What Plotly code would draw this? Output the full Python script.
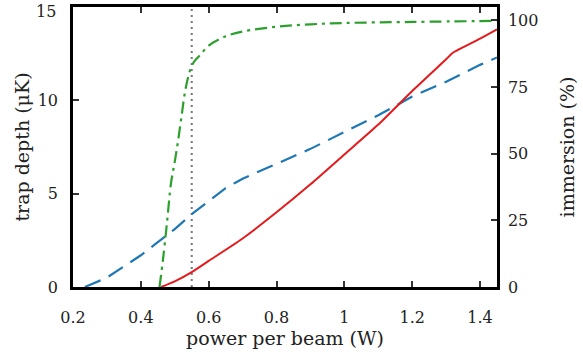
import plotly.graph_objects as go

# trap depth (uK) vs power per beam (W)
blue_x = [0.235, 0.27, 0.3, 0.35, 0.4, 0.45, 0.5, 0.55, 0.6, 0.65, 0.68, 0.7, 0.8, 0.9, 1.0, 1.1, 1.2, 1.3, 1.4, 1.45]
blue_y = [0.0, 0.25, 0.5, 1.1, 1.7, 2.4, 3.1, 3.9, 4.6, 5.3, 5.6, 5.8, 6.6, 7.4, 8.3, 9.2, 10.2, 11.0, 11.9, 12.3]

red_x = [0.46, 0.5, 0.55, 0.6, 0.7, 0.8, 0.9, 1.0, 1.1, 1.2, 1.3, 1.32, 1.4, 1.45]
red_y = [0.0, 0.3, 0.8, 1.4, 2.6, 4.0, 5.5, 7.1, 8.7, 10.5, 12.2, 12.55, 13.3, 13.8]

# immersion (%)
green_x = [0.455, 0.465, 0.477, 0.489, 0.5, 0.51, 0.52, 0.53, 0.54, 0.55, 0.56, 0.575, 0.6, 0.65, 0.7, 0.8, 0.9, 1.0, 1.2, 1.45]
green_y = [0, 10, 24, 39, 47, 55, 64, 73, 79, 83, 85, 87, 90.5, 94, 95.8, 97.6, 98.5, 99, 99.4, 99.8]

vline_x = [0.55, 0.55]
vline_y = [0, 15]

x_ticks = [0.2, 0.4, 0.6, 0.8, 1.0, 1.2, 1.4]
y_ticks = [0, 5, 10, 15]
y_ticktext = ["0", "5", "10", ""]  # the top label "15" is placed as an annotation just below the edge
y_top_label = "15"
y2_ticks = [0, 25, 50, 75, 100]

FONT = "DejaVu Serif"
TICK_SIZE = 16
TITLE_SIZE = 19

fig = go.Figure()
fig.add_trace(go.Scatter(x=vline_x, y=vline_y, mode="lines",
                         line=dict(color="#777777", width=2, dash="2px,4px"), yaxis="y"))
fig.add_trace(go.Scatter(x=blue_x, y=blue_y, mode="lines",
                         line=dict(color="#1f77b4", width=2.2, dash="17px,9px"), yaxis="y"))
fig.add_trace(go.Scatter(x=red_x, y=red_y, mode="lines", line_shape="spline",
                         line=dict(color="#e41a1c", width=2, smoothing=0.6), yaxis="y"))
fig.add_trace(go.Scatter(x=green_x, y=green_y, mode="lines", line_shape="spline",
                         line=dict(color="#2ca02c", width=2.2, dash="12px,5px,3px,5px"), yaxis="y2"))

fig.add_annotation(x=0, xref="paper", y=15, yref="y", text=y_top_label, showarrow=False,
                   xanchor="right", yanchor="middle", xshift=-15, yshift=-4,
                   font=dict(family=FONT, size=TICK_SIZE, color="#222222"))

fig.update_layout(
    width=583, height=362,
    margin=dict(l=73, r=86, t=7, b=75),
    paper_bgcolor="white", plot_bgcolor="white",
    showlegend=False,
    font=dict(family=FONT, size=TICK_SIZE, color="#222222"),
    xaxis=dict(range=[0.2, 1.45], tickvals=x_ticks, ticks="inside", ticklen=6, tickwidth=1.5,
               tickcolor="#333333", showline=True, linewidth=2.5, linecolor="black",
               mirror="ticks", showgrid=False, zeroline=False, ticklabeloverflow="allow",
               automargin=False, ticklabelstandoff=14,
               title=dict(text="power per beam (W)", font=dict(size=TITLE_SIZE, family=FONT), standoff=4)),
    yaxis=dict(range=[0, 15], tickvals=y_ticks, ticktext=y_ticktext, ticks="inside", ticklen=6,
               tickwidth=1.5, tickcolor="#333333", showline=True, linewidth=2.5, linecolor="black",
               showgrid=False, zeroline=False, ticklabeloverflow="allow", automargin=False,
               ticklabelstandoff=9,
               title=dict(text="trap depth (μK)", font=dict(size=TITLE_SIZE, family=FONT), standoff=4)),
    yaxis2=dict(range=[0, 105], tickvals=y2_ticks, ticks="inside", ticklen=6, tickwidth=1.5,
                tickcolor="#333333", showline=True, linewidth=2.5, linecolor="black",
                overlaying="y", side="right", showgrid=False, zeroline=False,
                ticklabeloverflow="allow", automargin=False, ticklabelstandoff=5,
                title=dict(text="immersion (%)", font=dict(size=TITLE_SIZE, family=FONT), standoff=24)),
)

fig.write_html("out.html")
